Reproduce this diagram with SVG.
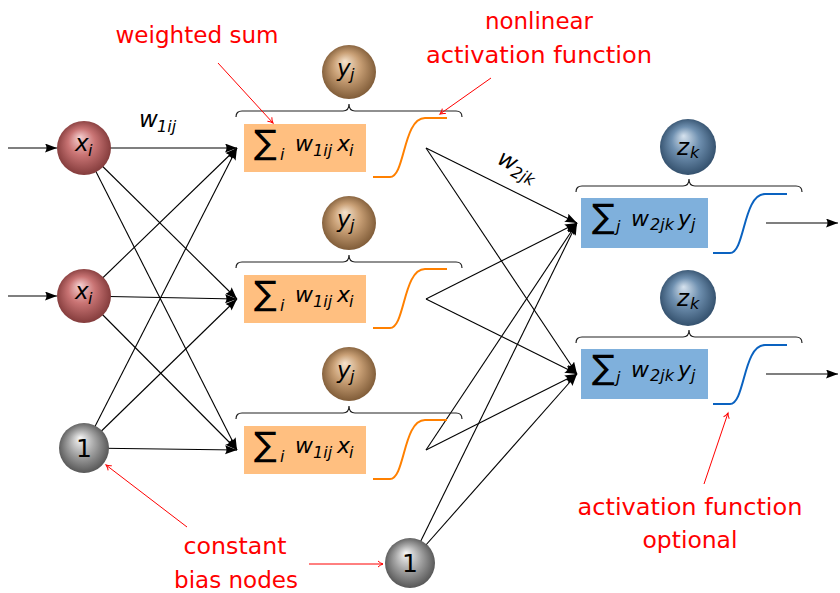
<svg xmlns="http://www.w3.org/2000/svg" width="840" height="593" viewBox="0 0 840 593">
<style>
.conn{stroke:#000;stroke-width:1.1;fill:none}
.red{stroke:#ff0000;stroke-width:1;fill:none}
.lbl{font-family:"DejaVu Sans",sans-serif;font-size:23px;fill:#ff0000;text-anchor:middle}
.m{font-family:"DejaVu Sans",sans-serif;font-style:italic;fill:#000}
.big{font-size:22px}
.sub{font-size:16px}
.nb{font-size:23px}
.sum{font-family:"DejaVu Sans",sans-serif;font-size:34px;fill:#000}
.brace{stroke:#222;stroke-width:1.2;fill:none}
.osig{stroke:#ff8000;stroke-width:2;fill:none}
.bsig{stroke:#0a62c0;stroke-width:2;fill:none}
.hbox{fill:#ffbf80}
.obox{fill:#7fb0dc}
.one{font-family:"DejaVu Sans",sans-serif;font-size:25px;fill:#000;text-anchor:middle}
</style>
<defs>
<radialGradient id="gRed" cx="0.5" cy="0.5" r="0.55" fx="0.42" fy="0.3">
<stop offset="0" stop-color="#f6d0d0"/><stop offset="0.45" stop-color="#c97474"/><stop offset="1" stop-color="#7a3434"/>
</radialGradient>
<radialGradient id="gTan" cx="0.5" cy="0.5" r="0.55" fx="0.42" fy="0.3">
<stop offset="0" stop-color="#f5e2cc"/><stop offset="0.45" stop-color="#c9a076"/><stop offset="1" stop-color="#765330"/>
</radialGradient>
<radialGradient id="gBlue" cx="0.5" cy="0.5" r="0.55" fx="0.42" fy="0.3">
<stop offset="0" stop-color="#d6e2ee"/><stop offset="0.45" stop-color="#6f90b0"/><stop offset="1" stop-color="#2c4864"/>
</radialGradient>
<radialGradient id="gGrey" cx="0.5" cy="0.5" r="0.55" fx="0.42" fy="0.3">
<stop offset="0" stop-color="#f8f8f8"/><stop offset="0.45" stop-color="#a8a8a8"/><stop offset="1" stop-color="#4c4c4c"/>
</radialGradient>
<marker id="ah" markerUnits="userSpaceOnUse" markerWidth="13" markerHeight="10" refX="12" refY="4.5" orient="auto">
<path d="M0,0 L12,4.5 L0,9 Q3,4.5 0,0 z" fill="#000"/>
</marker>
<marker id="rh" markerUnits="userSpaceOnUse" markerWidth="8" markerHeight="8" refX="6" refY="4" orient="auto">
<path d="M1,1 Q3,3 6,4 Q3,5 1,7" fill="none" stroke="#ff0000" stroke-width="1"/>
</marker>
<path id="sig" d="M373,29 L390,29 C405,29 403,-30 425,-30 L447,-30"/>
<path id="brc" d="M0,6 Q0,0 6,0 L107,0 Q113,0 113,-7 Q113,0 119,0 L220,0 Q226,0 226,6"/>
</defs>

<g id="connectors">
<line class="conn" x1="8" y1="148" x2="57" y2="148" marker-end="url(#ah)"/>
<line class="conn" x1="8" y1="296" x2="57" y2="296" marker-end="url(#ah)"/>
<line class="conn" x1="84" y1="148" x2="237" y2="148" marker-end="url(#ah)"/>
<line class="conn" x1="84" y1="148" x2="237" y2="299" marker-end="url(#ah)"/>
<line class="conn" x1="84" y1="148" x2="237" y2="450" marker-end="url(#ah)"/>
<line class="conn" x1="84" y1="296" x2="237" y2="148" marker-end="url(#ah)"/>
<line class="conn" x1="84" y1="296" x2="237" y2="299" marker-end="url(#ah)"/>
<line class="conn" x1="84" y1="296" x2="237" y2="450" marker-end="url(#ah)"/>
<line class="conn" x1="84" y1="448" x2="237" y2="148" marker-end="url(#ah)"/>
<line class="conn" x1="84" y1="448" x2="237" y2="299" marker-end="url(#ah)"/>
<line class="conn" x1="84" y1="448" x2="237" y2="450" marker-end="url(#ah)"/>
<line class="conn" x1="426" y1="148" x2="577" y2="223" marker-end="url(#ah)"/>
<line class="conn" x1="426" y1="148" x2="577" y2="374" marker-end="url(#ah)"/>
<line class="conn" x1="426" y1="299" x2="577" y2="223" marker-end="url(#ah)"/>
<line class="conn" x1="426" y1="299" x2="577" y2="374" marker-end="url(#ah)"/>
<line class="conn" x1="426" y1="450" x2="577" y2="223" marker-end="url(#ah)"/>
<line class="conn" x1="426" y1="450" x2="577" y2="374" marker-end="url(#ah)"/>
<line class="conn" x1="410" y1="563" x2="577" y2="223" marker-end="url(#ah)"/>
<line class="conn" x1="410" y1="563" x2="577" y2="374" marker-end="url(#ah)"/>
<line class="conn" x1="766" y1="223" x2="838" y2="223" marker-end="url(#ah)"/>
<line class="conn" x1="766" y1="374" x2="838" y2="374" marker-end="url(#ah)"/>
</g>

<g id="input1">
<circle cx="84" cy="148" r="27" fill="url(#gRed)"/>
<text class="m"><tspan class="nb" x="75" y="151">x</tspan><tspan class="sub" x="88" y="156">i</tspan></text>
</g>
<g id="input2">
<circle cx="84" cy="296" r="27" fill="url(#gRed)"/>
<text class="m"><tspan class="nb" x="75" y="299">x</tspan><tspan class="sub" x="88" y="304">i</tspan></text>
</g>
<g id="bias1">
<circle cx="84" cy="448" r="25" fill="url(#gGrey)"/>
<text class="one" x="84" y="457">1</text>
</g>
<g id="bias2">
<circle cx="410" cy="563" r="25" fill="url(#gGrey)"/>
<text class="one" x="410" y="572">1</text>
</g>

<g id="w1label"><text class="m"><tspan class="nb" x="139" y="127">w</tspan><tspan class="sub" x="157" y="132">1ij</tspan></text></g>
<g id="w2label"><text class="m" transform="translate(496,163) rotate(26.6)"><tspan class="nb" x="0" y="0">w</tspan><tspan class="sub" x="18" y="5">2jk</tspan></text></g>

<g id="hidden1">
<circle cx="349" cy="72" r="27" fill="url(#gTan)"/>
<text class="m"><tspan class="nb" x="337" y="76">y</tspan><tspan class="sub" x="350" y="80">j</tspan></text>
<use href="#brc" class="brace" transform="translate(236,111)"/>
<rect class="hbox" x="244" y="124" width="122" height="48"/>
<text class="sum" x="254" y="154">∑</text>
<text class="m"><tspan class="sub" x="280" y="160">i</tspan><tspan class="big" x="295" y="151">w</tspan><tspan class="sub" x="313" y="156">1ij</tspan><tspan class="big" x="337" y="151">x</tspan><tspan class="sub" x="349" y="156">i</tspan></text>
<use href="#sig" class="osig" transform="translate(0,148)"/>
</g>
<g id="hidden2">
<circle cx="349" cy="223" r="27" fill="url(#gTan)"/>
<text class="m"><tspan class="nb" x="337" y="227">y</tspan><tspan class="sub" x="350" y="231">j</tspan></text>
<use href="#brc" class="brace" transform="translate(236,262)"/>
<rect class="hbox" x="244" y="275" width="122" height="48"/>
<text class="sum" x="254" y="305">∑</text>
<text class="m"><tspan class="sub" x="280" y="311">i</tspan><tspan class="big" x="295" y="302">w</tspan><tspan class="sub" x="313" y="307">1ij</tspan><tspan class="big" x="337" y="302">x</tspan><tspan class="sub" x="349" y="307">i</tspan></text>
<use href="#sig" class="osig" transform="translate(0,299)"/>
</g>
<g id="hidden3">
<circle cx="349" cy="374" r="27" fill="url(#gTan)"/>
<text class="m"><tspan class="nb" x="337" y="378">y</tspan><tspan class="sub" x="350" y="382">j</tspan></text>
<use href="#brc" class="brace" transform="translate(236,413)"/>
<rect class="hbox" x="244" y="426" width="122" height="48"/>
<text class="sum" x="254" y="456">∑</text>
<text class="m"><tspan class="sub" x="280" y="462">i</tspan><tspan class="big" x="295" y="453">w</tspan><tspan class="sub" x="313" y="458">1ij</tspan><tspan class="big" x="337" y="453">x</tspan><tspan class="sub" x="349" y="458">i</tspan></text>
<use href="#sig" class="osig" transform="translate(0,450)"/>
</g>

<g id="output1">
<circle cx="688" cy="147" r="28" fill="url(#gBlue)"/>
<text class="m"><tspan class="nb" x="677" y="155">z</tspan><tspan class="sub" x="690" y="158">k</tspan></text>
<use href="#brc" class="brace" transform="translate(576,186)"/>
<rect class="obox" x="581" y="198" width="127" height="50"/>
<text class="sum" x="592" y="228">∑</text>
<text class="m"><tspan class="sub" x="616" y="232">j</tspan><tspan class="big" x="631" y="226">w</tspan><tspan class="sub" x="650" y="230">2jk</tspan><tspan class="big" x="678" y="226">y</tspan><tspan class="sub" x="691" y="230">j</tspan></text>
<use href="#sig" class="bsig" transform="translate(340,224)"/>
</g>
<g id="output2">
<circle cx="688" cy="298" r="28" fill="url(#gBlue)"/>
<text class="m"><tspan class="nb" x="677" y="306">z</tspan><tspan class="sub" x="690" y="309">k</tspan></text>
<use href="#brc" class="brace" transform="translate(576,337)"/>
<rect class="obox" x="581" y="349" width="127" height="50"/>
<text class="sum" x="592" y="379">∑</text>
<text class="m"><tspan class="sub" x="616" y="383">j</tspan><tspan class="big" x="631" y="377">w</tspan><tspan class="sub" x="650" y="381">2jk</tspan><tspan class="big" x="678" y="377">y</tspan><tspan class="sub" x="691" y="381">j</tspan></text>
<use href="#sig" class="bsig" transform="translate(340,375)"/>
</g>

<g id="annotations">
<text class="lbl" x="197" y="43" textLength="163" lengthAdjust="spacingAndGlyphs">weighted sum</text>
<line class="red" x1="218" y1="63" x2="273" y2="123" marker-end="url(#rh)"/>
<text class="lbl" x="539" y="29" textLength="108" lengthAdjust="spacingAndGlyphs">nonlinear</text>
<text class="lbl" x="539" y="63" textLength="226" lengthAdjust="spacingAndGlyphs">activation function</text>
<line class="red" x1="491" y1="78" x2="440" y2="114" marker-end="url(#rh)"/>
<text class="lbl" x="235" y="554" textLength="103" lengthAdjust="spacingAndGlyphs">constant</text>
<text class="lbl" x="236" y="588" textLength="124" lengthAdjust="spacingAndGlyphs">bias nodes</text>
<line class="red" x1="187" y1="527" x2="106" y2="465" marker-end="url(#rh)"/>
<line class="red" x1="309" y1="564" x2="383" y2="564" marker-end="url(#rh)"/>
<text class="lbl" x="690" y="515" textLength="225" lengthAdjust="spacingAndGlyphs">activation function</text>
<text class="lbl" x="690" y="548" textLength="95" lengthAdjust="spacingAndGlyphs">optional</text>
<line class="red" x1="704" y1="484" x2="728" y2="413" marker-end="url(#rh)"/>
</g>
</svg>
